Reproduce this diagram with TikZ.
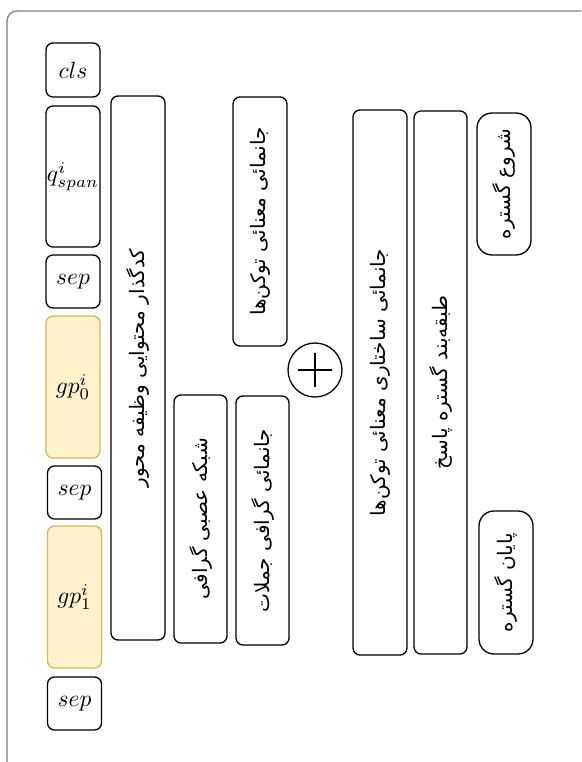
\documentclass[tikz,border=0pt]{standalone}
\usepackage{graphicx}
\usepackage{fontspec}
\newfontfamily\fa[Script=Arabic]{DejaVu Sans}
\TeXXeTstate=1
\definecolor{ylfill}{HTML}{FFF2CC}
\definecolor{yldraw}{HTML}{D6B656}
\definecolor{frame}{HTML}{808080}
\newcommand{\toklabel}[1]{\scalebox{2.35}{$#1$}}
\tikzset{
  tok/.style={draw=black, line width=1.3pt, rounded corners=7pt, fill=white,
    minimum width=54pt, inner sep=0pt},
  ytok/.style={tok, fill=ylfill, draw=yldraw},
  vbox/.style={draw=black, line width=1.3pt, rounded corners=7pt, rotate=90,
    inner sep=0pt, font=\fa\fontsize{20}{24}\selectfont},
  pillbox/.style={vbox, rounded corners=15pt},
  plusnode/.style={draw=black, line width=1.3pt, circle, minimum size=54pt, inner sep=0pt}
}
\begin{document}
\begin{tikzpicture}[x=1pt,y=-1pt]
\useasboundingbox (0,0) rectangle (581,762);
\begin{scope}
\clip (0,0) rectangle (581,762);
\draw[frame, line width=1.3pt, rounded corners=10pt] (7,11) rectangle (600,780);
\end{scope}
% token column
\node[tok, minimum height=54pt] (cls) at (73,70) {\toklabel{cls}};
\node[tok, minimum height=141pt] (qspan) at (73,176.5) {\toklabel{q^{i}_{span}}};
\node[tok, minimum height=53pt] (sepa) at (73,281.5) {\toklabel{sep}};
\node[ytok, minimum height=142pt] (gpz) at (73,387) {\toklabel{gp^{i}_{0}}};
\node[tok, minimum height=53pt] (sepb) at (74.5,492.5) {\toklabel{sep}};
\node[ytok, minimum height=142pt] (gpo) at (74.5,597) {\toklabel{gp^{i}_{1}}};
\node[tok, minimum height=53pt] (sepc) at (74.5,703.5) {\toklabel{sep}};
% vertical boxes
\node[vbox, minimum width=544pt, minimum height=54pt] (enc) at (138,368)
  {\beginR کدگذار محتوایی وظیفه محور\endR};
\node[vbox, minimum width=249pt, minimum height=54pt] (tokemb) at (260,221.5)
  {\beginR جانمائی معنائی توکن‌ها\endR};
\node[vbox, minimum width=248pt, minimum height=53pt] (gnn) at (200.5,519)
  {\beginR شبکه عصبی گرافی\endR};
\node[vbox, minimum width=249pt, minimum height=53pt] (sentemb) at (262.5,520.5)
  {\beginR جانمائی گرافی جملات\endR};
\node[plusnode] (plus) at (315,370) {};
\draw[line width=1.3pt] ([xshift=-17pt]plus.center) -- ([xshift=17pt]plus.center);
\draw[line width=1.3pt] ([yshift=-17pt]plus.center) -- ([yshift=17pt]plus.center);
\node[vbox, minimum width=545pt, minimum height=54pt] (struct) at (380,382.5)
  {\beginR جانمائی ساختاری معنائی توکن‌ها\endR};
\node[vbox, minimum width=543pt, minimum height=53pt] (clsf) at (440.5,382.5)
  {\beginR طبقه‌بند گستره پاسخ\endR};
\node[pillbox, minimum width=142pt, minimum height=54pt] (start) at (504,184)
  {\beginR شروع گستره\endR};
\node[pillbox, minimum width=143pt, minimum height=54pt] (end) at (506,582.5)
  {\beginR پایان گستره\endR};
\end{tikzpicture}
\end{document}
